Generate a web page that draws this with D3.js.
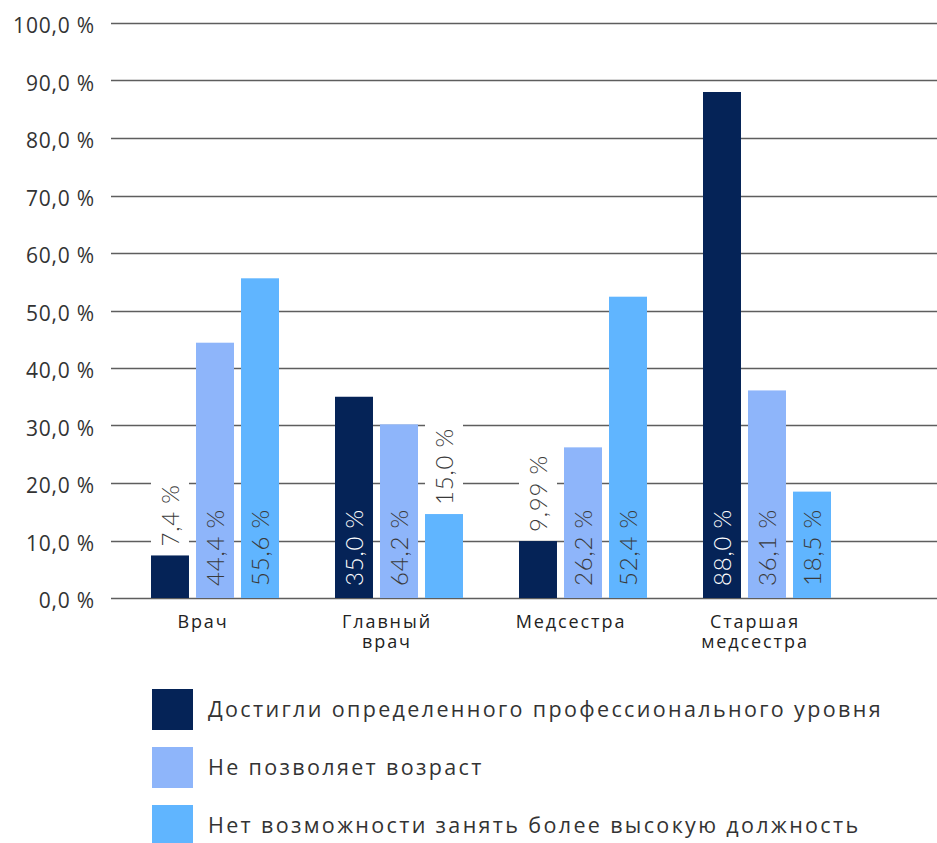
<!DOCTYPE html>
<html>
<head>
<meta charset="utf-8">
<script src="https://cdn.jsdelivr.net/npm/d3@7/dist/d3.min.js"></script>
<style>
  html, body { margin: 0; padding: 0; background: #fff; }
  svg { display: block; }
  text { font-family: "Open Sans", Lato, sans-serif; }
  text.dl { font-family: Lato, "Open Sans", sans-serif; }
</style>
</head>
<body>
<svg id="chart" width="937" height="843"></svg>
<script>
// ---- data ----
const categories = [["Врач"], ["Главный", "врач"], ["Медсестра"], ["Старшая", "медсестра"]];
const seriesNames = [
  "Достигли определенного профессионального уровня",
  "Не позволяет возраст",
  "Нет возможности занять более высокую должность"
];
const seriesColors = ["#052357", "#8eb5fa", "#60b5ff"];
// bar heights as drawn
const reachedLevel = [7.4, 35.0, 9.9, 88.0];
const ageLimit = [44.4, 30.2, 26.2, 36.1];
const noPosition = [55.6, 14.6, 52.4, 18.5];
// data labels as printed
const reachedLevelLabels = ["7,4 %", "35,0 %", "9,99 %", "88,0 %"];
const ageLimitLabels = ["44,4 %", "64,2 %", "26,2 %", "36,1 %"];
const noPositionLabels = ["55,6 %", "15,0 %", "52,4 %", "18,5 %"];
const yTicks = [0, 10, 20, 30, 40, 50, 60, 70, 80, 90, 100];
const yTickLabels = ["0,0 %", "10,0 %", "20,0 %", "30,0 %", "40,0 %", "50,0 %", "60,0 %", "70,0 %", "80,0 %", "90,0 %", "100,0 %"];

const seriesValues = [reachedLevel, ageLimit, noPosition];
const seriesLabels = [reachedLevelLabels, ageLimitLabels, noPositionLabels];

// ---- layout ----
const svg = d3.select("#chart");
const plotLeft = 111, plotRight = 937, plotTop = 23, plotBottom = 598;

const y = d3.scaleLinear().domain([0, 100]).range([plotBottom, plotTop]);
const x0 = d3.scaleBand().domain(d3.range(categories.length)).range([plotLeft, plotLeft + 184 * 4]).paddingInner(0).paddingOuter(0);
const x1 = d3.scaleBand().domain(d3.range(3)).range([40, 168]).paddingInner(0.156).paddingOuter(0);

// gridlines
svg.append("g").selectAll("line").data(yTicks).join("line")
  .attr("x1", plotLeft).attr("x2", plotRight)
  .attr("y1", d => Math.round(y(d)) + 0.5).attr("y2", d => Math.round(y(d)) + 0.5)
  .attr("stroke", "#5e5e5e").attr("stroke-width", 1.6);

// y labels
svg.append("g").selectAll("text").data(yTicks).join("text")
  .attr("x", 95).attr("y", d => y(d) + 10)
  .attr("text-anchor", "end")
  .attr("font-size", 21).attr("letter-spacing", 0.8).attr("fill", "#333")
  .text((d, i) => yTickLabels[i]);

// bars
const flat = [];
categories.forEach((c, ci) => {
  seriesValues.forEach((vals, si) => {
    flat.push({ ci, si, v: vals[ci], label: seriesLabels[si][ci] });
  });
});

const bx = d => x0(d.ci) + x1(d.si);
const bw = x1.bandwidth();

svg.append("g").selectAll("rect").data(flat).join("rect")
  .attr("x", bx).attr("width", bw)
  .attr("y", d => y(d.v)).attr("height", d => y(0) - y(d.v))
  .attr("fill", d => seriesColors[d.si]);

// data labels
const labelFont = 24;
const lg = svg.append("g");
flat.forEach(d => {
  const cx = bx(d) + bw / 2;
  const barTop = y(d.v);
  const inside = (y(0) - barTop) > 90;
  const g = lg.append("g");
  let startY = inside ? plotBottom - 12 : barTop - 9;
  const t = g.append("text").attr("class", "dl")
    .attr("transform", `translate(${cx + 9},${startY}) rotate(-90)`)
    .attr("text-anchor", "start")
    .attr("font-size", labelFont)
    .attr("font-weight", 300)
    .attr("letter-spacing", 0.8)
    .attr("fill", inside && d.si === 0 ? "#ffffff" : "#3a3a3a")
    .text(d.label);
  if (!inside) {
    const len = t.node().getComputedTextLength();
    g.insert("rect", "text")
      .attr("x", bx(d)).attr("width", bw)
      .attr("y", startY - len - 8).attr("height", len + 8 + (barTop - startY) - 1)
      .attr("fill", "#fff");
  }
});

// category labels
const cg = svg.append("g");
categories.forEach((lines, ci) => {
  const cx = x0(ci) + x0.bandwidth() / 2;
  lines.forEach((ln, li) => {
    cg.append("text")
      .attr("x", cx)
      .attr("y", 628 + li * 20)
      .attr("text-anchor", "middle")
      .attr("font-size", 18).attr("letter-spacing", 1.9).attr("fill", "#222")
      .text(ln);
  });
});

// legend
const legend = svg.append("g");
seriesNames.forEach((name, i) => {
  const yy = 689 + i * 58;
  legend.append("rect").attr("x", 152).attr("y", yy).attr("width", 41).attr("height", 41).attr("fill", seriesColors[i]);
  legend.append("text").attr("x", 208).attr("y", yy + 20.5).attr("dy", "0.35em")
    .attr("font-size", 21.5).attr("letter-spacing", 2.35).attr("fill", "#333").text(name);
});
</script>
</body>
</html>
